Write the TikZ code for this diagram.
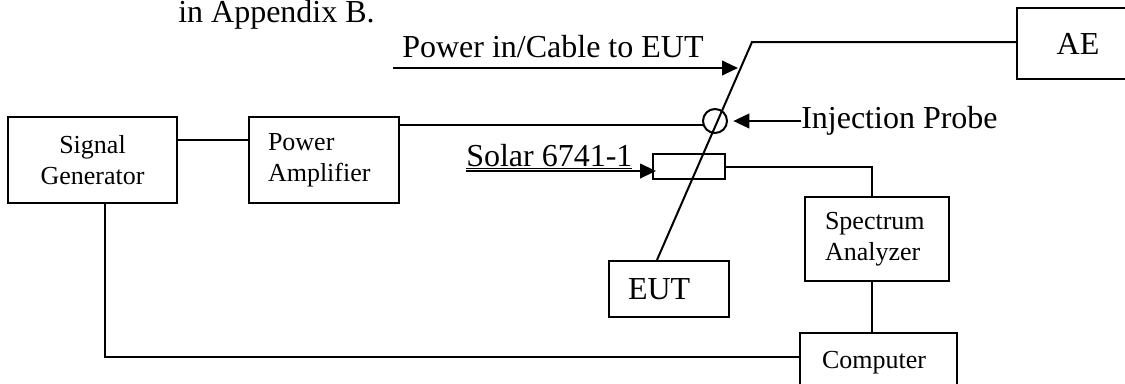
\documentclass[tikz,border=0pt]{standalone}
\usepackage{fontspec}
\setmainfont{Liberation Serif}
\usetikzlibrary{arrows.meta, positioning, calc}

\begin{document}
\begin{tikzpicture}[x=0.75pt, y=-0.75pt,
    block/.style={rectangle, draw, line width=1.6pt, align=left, inner ysep=0pt, font=\fontsize{19.5}{23.25}\selectfont},
    bigblock/.style={rectangle, draw, line width=1.6pt, align=left, inner ysep=0pt, font=\fontsize{24}{28}\selectfont},
    lbl/.style={inner sep=0pt, font=\fontsize{24}{28}\selectfont},
    wire/.style={line width=1.5pt},
    arrow/.style={-{Triangle[length=12pt, width=11pt]}, line width=1.5pt}
]
\useasboundingbox (0,0) rectangle (1125,383);

\node[block, align=center, minimum width=126.75pt, minimum height=64.5pt] (sg) at (92.5,160) {Signal\\Generator};
\node[block, text width=84pt, inner xsep=14.25pt, minimum height=64.5pt] (pa) at (324,160) {Power\\Amplifier};
\node[bigblock, align=center, minimum width=91.5pt, minimum height=53.25pt] (ae) at (1078,43.5) {AE};
\node[bigblock, text width=61.5pt, inner xsep=14.25pt, minimum height=42pt] (eut) at (669,289) {EUT};
\node[block, text width=78pt, inner xsep=15pt, minimum height=63pt] (sa) at (877,239) {Spectrum\\Analyzer};
\node[block, text width=84.75pt, inner xsep=16.5pt, minimum height=45pt] (comp) at (878.5,363) {Computer};
\node[rectangle, draw, line width=1.5pt, inner sep=0pt, minimum width=54pt, minimum height=18.75pt] (clamp) at (689,166.5) {};
\node[circle, draw, line width=1.5pt, inner sep=0pt, minimum size=18pt] (probe) at (715,121) {};

\node[lbl, anchor=base west] (apxlbl) at (178,22) {in Appendix B.};
\node[lbl, anchor=base west] (pwrlbl) at (402,57) {Power in/Cable to EUT};
\node[lbl, anchor=base west] (solarlbl) at (466,166) {\underline{Solar 6741-1}};
\node[lbl, anchor=west] (injlbl) at (801,121) {Injection Probe};

\coordinate (bend) at (752,42);
\coordinate (pwrtip) at (738,68);
\coordinate (solartip) at (656,171);
\coordinate (sabot) at ($(sa.south)+(-5,0)$);

% signal path
\draw[wire] ([yshift=-18pt]sg.north east) -- ([yshift=-18pt]pa.north west);
\draw[wire] (probe.200) -- (probe.200 -| pa.east);
\draw[wire] ([xshift=-9pt]eut.north) -- (bend) -- (bend -| ae.west);
\draw[wire] (clamp.east) -| ($(sa.north)+(-5,0)$);
\draw[wire] (sabot) -- (sabot |- comp.north);
\draw[wire] ($(sg.south)+(12,0)$) |- ($(comp.west)+(0,-6)$);

% labels
\draw[arrow] ($(pwrlbl.base west)+(-9,11)$) -- (pwrtip);
\draw[arrow] ($(solarlbl.base west)+(0,5)$) -- (solartip);
\draw[arrow] (injlbl.west) -- ([xshift=4pt]probe.east);

\end{tikzpicture}
\end{document}
